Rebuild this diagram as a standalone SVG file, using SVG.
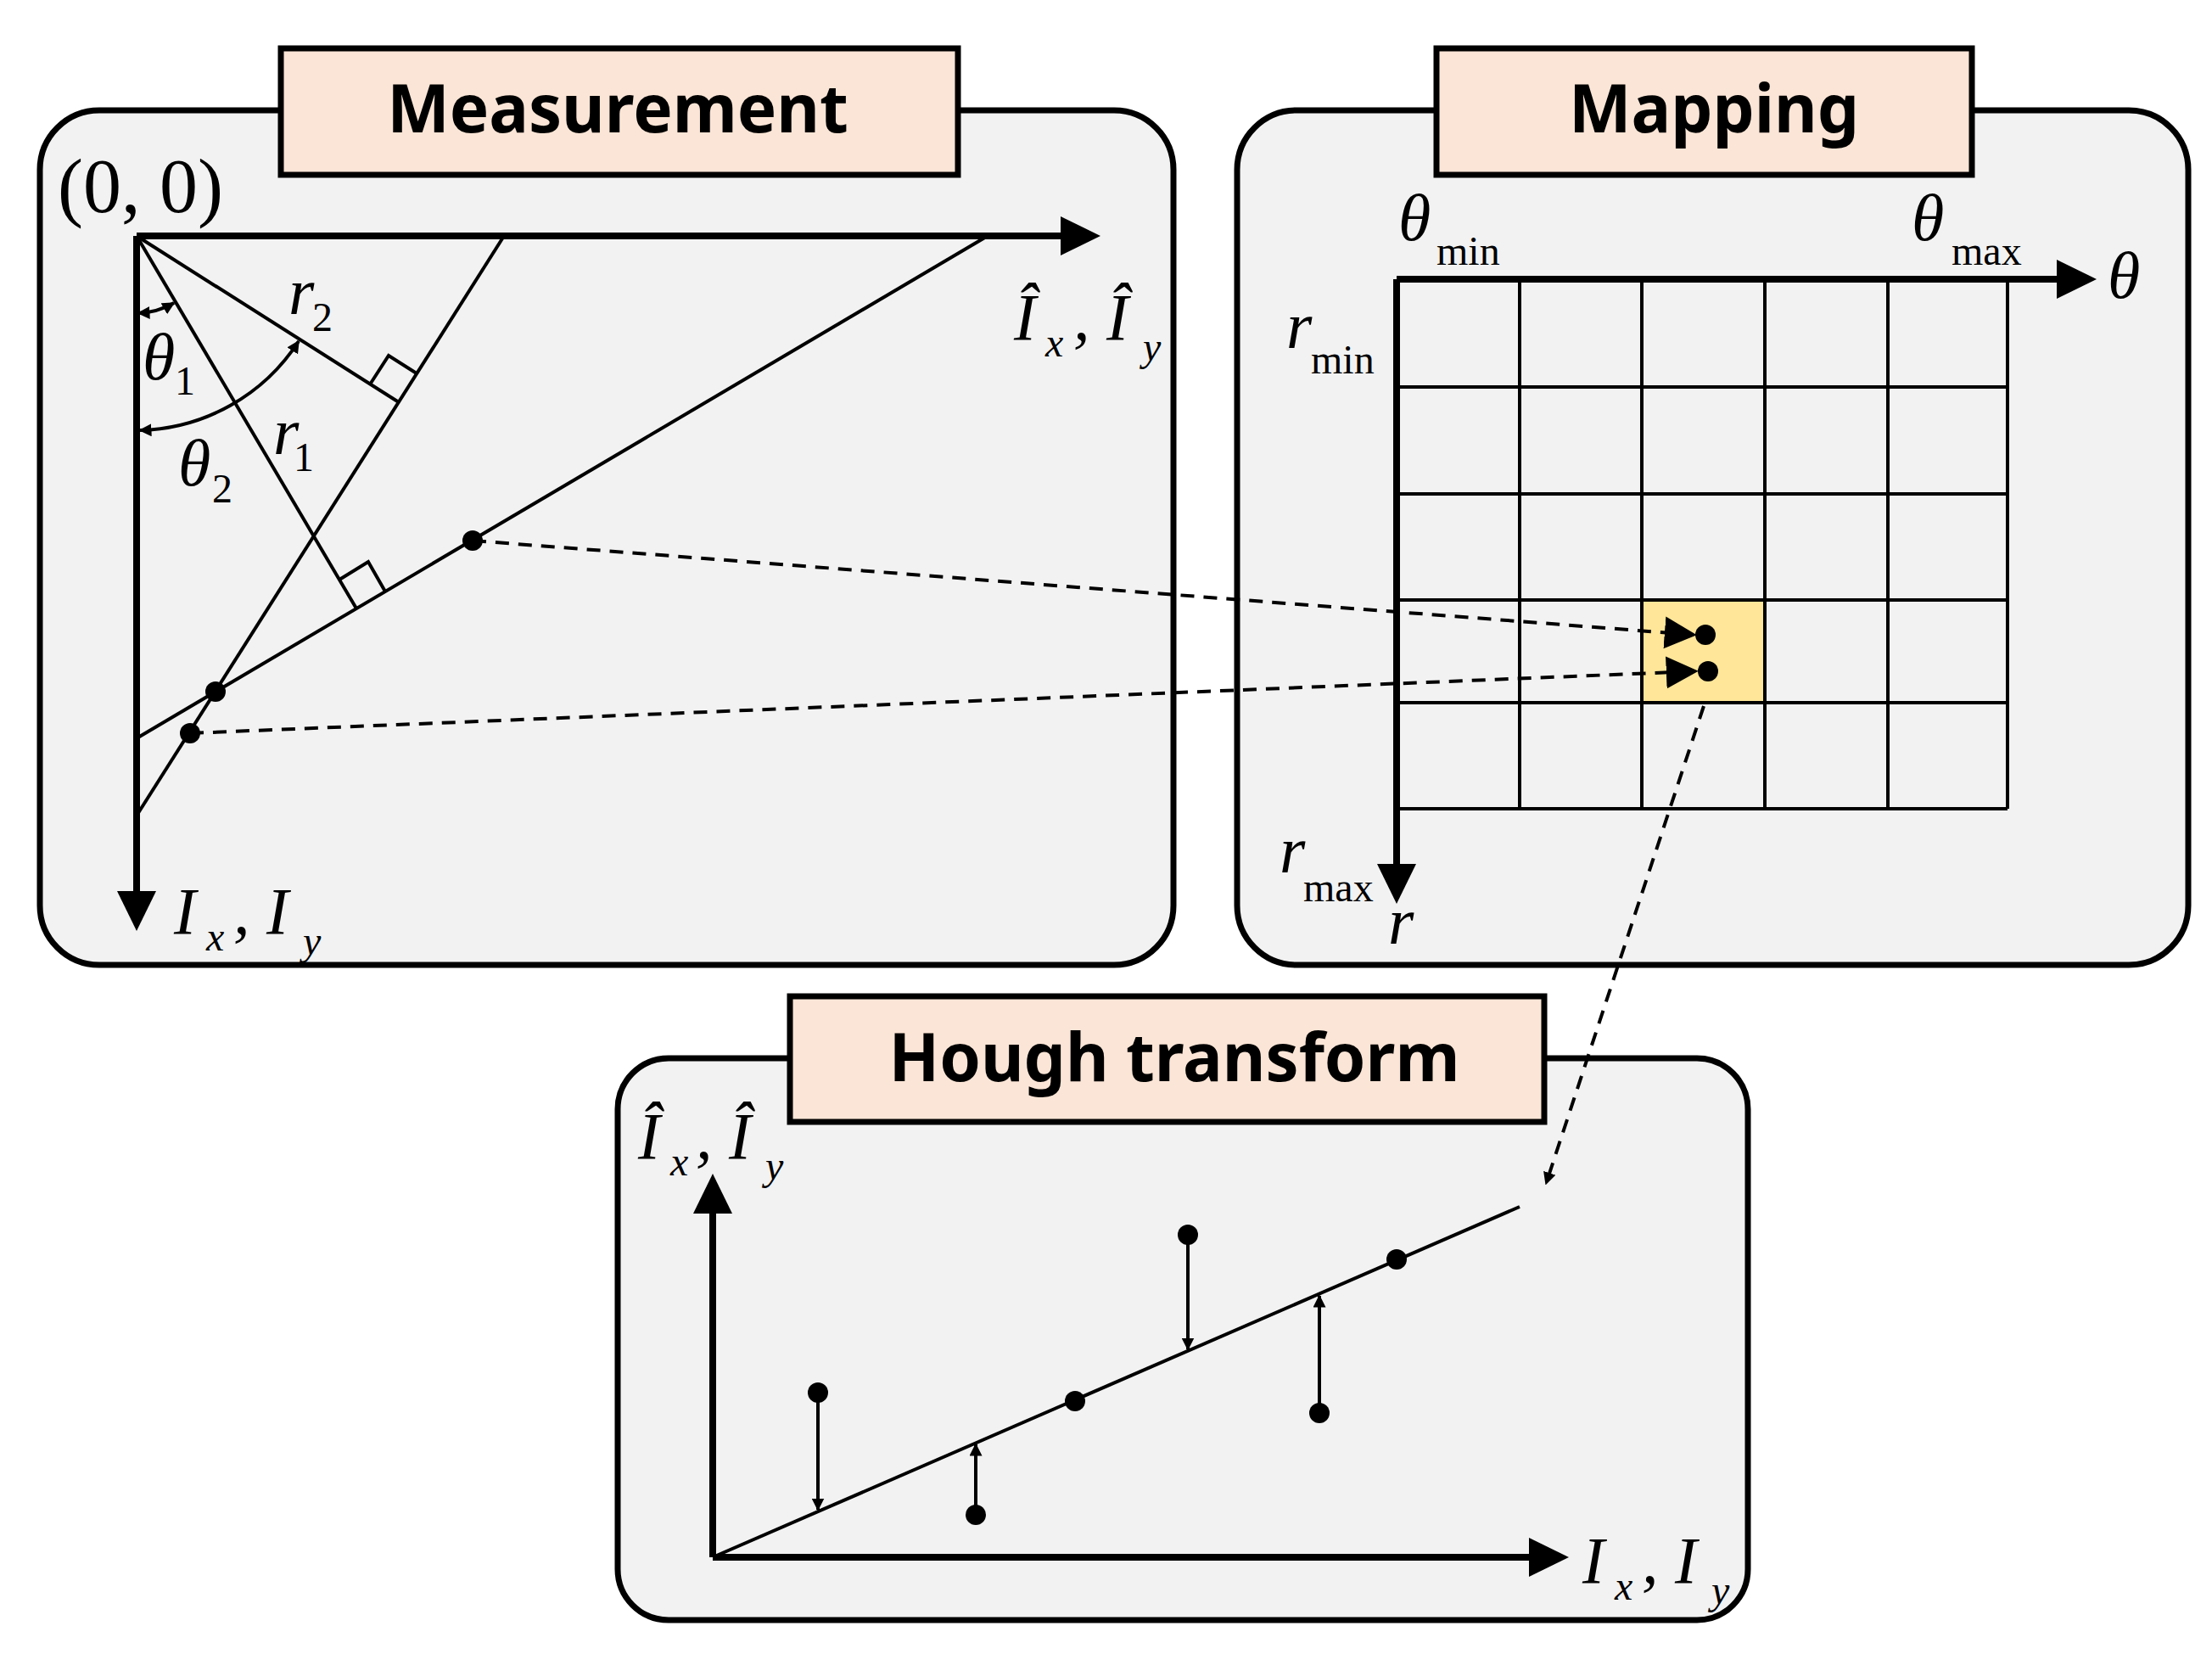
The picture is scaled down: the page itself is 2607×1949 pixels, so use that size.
<svg xmlns="http://www.w3.org/2000/svg" width="2607" height="1949" viewBox="0 0 2607 1949">
<style>
.panel{fill:#f2f2f2;stroke:#000;stroke-width:7}
.title{fill:#fbe5d6;stroke:#000;stroke-width:7}
.tt{font-family:"Noto Sans","Liberation Sans",sans-serif;font-weight:bold;font-size:78px;text-anchor:middle}
.m{font-family:"Liberation Serif",serif;font-style:italic;font-size:78px}
.s{font-family:"Liberation Serif",serif;font-size:48px}
.si{font-family:"Liberation Serif",serif;font-style:italic;font-size:48px}
.ax{stroke:#000;stroke-width:8;fill:none}
.ln{stroke:#000;stroke-width:4;fill:none}
.dash{stroke:#000;stroke-width:4;fill:none;stroke-dasharray:16 11}
.grid{stroke:#000;stroke-width:4;fill:none}
</style>
<defs>
<marker id="sa" viewBox="0 0 10 10" refX="9" refY="5" markerWidth="15" markerHeight="15" markerUnits="userSpaceOnUse" orient="auto-start-reverse"><path d="M0,0 L10,5 L0,10 z"/></marker>
<marker id="ba" viewBox="0 0 10 10" refX="9" refY="5" markerWidth="38" markerHeight="38" markerUnits="userSpaceOnUse" orient="auto"><path d="M0,0 L10,5 L0,10 z"/></marker>
</defs>

<g id="measurement">
<rect class="panel" x="47" y="130" width="1336" height="1007" rx="70"/>
<rect class="title" x="331" y="57" width="798" height="149"/>
<text class="tt" x="728" y="156">Measurement</text>
<text x="68" y="250" font-family="Liberation Serif,serif" font-size="90">(0, 0)</text>
<line class="ax" x1="161" y1="278" x2="1255" y2="278"/>
<polygon points="1297,278 1250,255 1250,301"/>
<line class="ax" x1="161" y1="278" x2="161" y2="1055"/>
<polygon points="161,1097 138,1050 184,1050"/>
<line class="ln" x1="594" y1="278" x2="161" y2="961"/>
<line class="ln" x1="1164" y1="278" x2="161" y2="870"/>
<line class="ln" x1="161" y1="278" x2="470" y2="474"/>
<line class="ln" x1="161" y1="278" x2="420" y2="717"/>
<polyline class="ln" points="436,453 458,419 491,440"/>
<polyline class="ln" points="400,683 434,662 454,697"/>
<path class="ln" d="M163,369 A91,91 0 0 0 205,357" marker-start="url(#sa)" marker-end="url(#sa)"/>
<path class="ln" d="M352,402 A229,229 0 0 1 165,507" marker-start="url(#sa)" marker-end="url(#sa)"/>
<circle cx="557" cy="637" r="12"/>
<circle cx="254" cy="815" r="12"/>
<circle cx="224" cy="864" r="12"/>
<text class="m" x="168" y="447">θ</text><text class="s" x="206" y="465">1</text>
<text class="m" x="210" y="572">θ</text><text class="s" x="250" y="592">2</text>
<text class="m" x="340" y="370">r</text><text class="s" x="368" y="390">2</text>
<text class="m" x="322" y="535">r</text><text class="s" x="346" y="555">1</text>
<text class="m" x="1195" y="400">Î</text><text class="si" x="1232" y="420">x</text><text class="m" x="1265" y="400">, Î</text><text class="si" x="1347" y="425">y</text>
<text class="m" x="205" y="1100">I</text><text class="si" x="243" y="1120">x</text><text class="m" x="275" y="1100">, I</text><text class="si" x="357" y="1125">y</text>
</g>

<g id="mapping">
<rect class="panel" x="1458" y="130" width="1121" height="1007" rx="70"/>
<rect class="title" x="1693" y="57" width="631" height="149"/>
<text class="tt" x="2020" y="156">Mapping</text>
<rect x="1935" y="707" width="145" height="121" fill="#ffe699"/>
<g class="grid">
<line x1="1791" y1="329" x2="1791" y2="953"/><line x1="1935" y1="329" x2="1935" y2="953"/><line x1="2080" y1="329" x2="2080" y2="953"/><line x1="2225" y1="329" x2="2225" y2="953"/><line x1="2366" y1="329" x2="2366" y2="953"/>
<line x1="1646" y1="456" x2="2366" y2="456"/><line x1="1646" y1="582" x2="2366" y2="582"/><line x1="1646" y1="707" x2="2366" y2="707"/><line x1="1646" y1="828" x2="2366" y2="828"/><line x1="1646" y1="953" x2="2366" y2="953"/>
</g>
<line class="ax" x1="1646" y1="329" x2="2430" y2="329"/>
<polygon points="2471,329 2424,306 2424,352"/>
<line class="ax" x1="1646" y1="329" x2="1646" y2="1025"/>
<polygon points="1646,1065 1623,1018 1669,1018"/>
<circle cx="2010" cy="748" r="12"/>
<circle cx="2013" cy="791" r="12"/>
<text class="m" x="1648" y="283">θ</text><text class="s" x="1693" y="312">min</text>
<text class="m" x="2253" y="283">θ</text><text class="s" x="2300" y="312">max</text>
<text class="m" x="2484" y="351">θ</text>
<text class="m" x="1516" y="410">r</text><text class="s" x="1545" y="440">min</text>
<text class="m" x="1508" y="1028">r</text><text class="s" x="1536" y="1062">max</text>
<text class="m" x="1636" y="1112">r</text>
</g>

<g id="hough">
<rect class="panel" x="728" y="1247" width="1332" height="662" rx="60"/>
<rect class="title" x="931" y="1174" width="889" height="148"/>
<text class="tt" x="1384" y="1274">Hough  transform</text>
<line class="ax" x1="840" y1="1835" x2="840" y2="1425"/>
<polygon points="840,1383 817,1430 863,1430"/>
<line class="ax" x1="840" y1="1835" x2="1810" y2="1835"/>
<polygon points="1849,1835 1802,1812 1802,1858"/>
<line class="ln" x1="840" y1="1835" x2="1791" y2="1422"/>
<circle cx="964" cy="1641" r="12"/><circle cx="1150" cy="1785" r="12"/><circle cx="1267" cy="1651" r="12"/>
<circle cx="1400" cy="1455" r="12"/><circle cx="1555" cy="1665" r="12"/><circle cx="1646" cy="1484" r="12"/>
<line class="ln" x1="964" y1="1641" x2="964" y2="1779" marker-end="url(#sa)"/>
<line class="ln" x1="1150" y1="1785" x2="1150" y2="1702" marker-end="url(#sa)"/>
<line class="ln" x1="1400" y1="1455" x2="1400" y2="1590" marker-end="url(#sa)"/>
<line class="ln" x1="1555" y1="1665" x2="1555" y2="1527" marker-end="url(#sa)"/>
<text class="m" x="752" y="1365">Î</text><text class="si" x="790" y="1385">x</text><text class="m" x="820" y="1365">, Î</text><text class="si" x="902" y="1390">y</text>
<text class="m" x="1865" y="1865">I</text><text class="si" x="1903" y="1885">x</text><text class="m" x="1935" y="1865">, I</text><text class="si" x="2017" y="1890">y</text>
</g>

<g id="connectors">
<line class="dash" x1="557" y1="637" x2="1996" y2="748" marker-end="url(#ba)"/>
<line class="dash" x1="224" y1="864" x2="1998" y2="791" marker-end="url(#ba)"/>
<line class="dash" x1="2008" y1="832" x2="1822" y2="1395" marker-end="url(#sa)"/>
</g>
</svg>
